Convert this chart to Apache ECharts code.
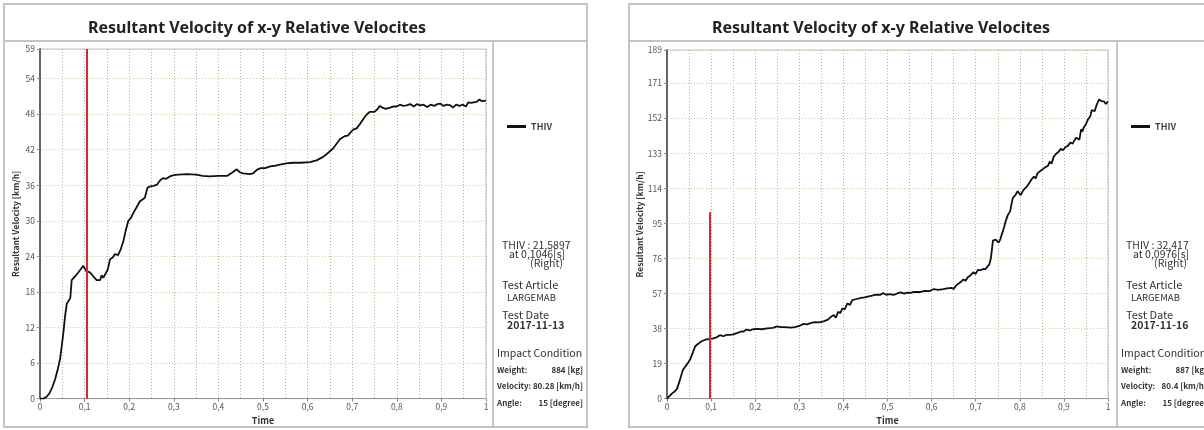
<!DOCTYPE html>
<html>
<head>
<meta charset="utf-8">
<script src="https://cdn.jsdelivr.net/npm/echarts@6/dist/echarts.min.js"></script>
<style>
  html, body { margin: 0; padding: 0; background: #fff; }
  #chart { width: 1204px; height: 430px; }
</style>
</head>
<body>
<div id="chart"></div>
<script>
// left test (2017-11-13)
const timeLeft = [0, 0.008, 0.015, 0.022, 0.028, 0.034, 0.04, 0.045, 0.049, 0.053, 0.056, 0.06, 0.065, 0.068, 0.071, 0.078, 0.085, 0.09, 0.097, 0.1, 0.104, 0.112, 0.12, 0.127, 0.135, 0.138, 0.142, 0.146, 0.152, 0.157, 0.163, 0.168, 0.175, 0.181, 0.187, 0.192, 0.198, 0.204, 0.209, 0.216, 0.224, 0.23, 0.235, 0.241, 0.247, 0.255, 0.262, 0.27, 0.276, 0.283, 0.291, 0.3, 0.31, 0.33, 0.35, 0.365, 0.38, 0.4, 0.42, 0.432, 0.441, 0.448, 0.455, 0.47, 0.478, 0.486, 0.495, 0.505, 0.516, 0.528, 0.538, 0.552, 0.567, 0.585, 0.605, 0.62, 0.635, 0.645, 0.657, 0.665, 0.673, 0.684, 0.69, 0.695, 0.702, 0.71, 0.717, 0.725, 0.733, 0.74, 0.744, 0.75, 0.756, 0.762, 0.768, 0.775, 0.785, 0.793, 0.8, 0.807, 0.814, 0.822, 0.83, 0.838, 0.845, 0.853, 0.86, 0.868, 0.876, 0.884, 0.891, 0.897, 0.905, 0.912, 0.92, 0.926, 0.933, 0.94, 0.948, 0.955, 0.96, 0.966, 0.973, 0.98, 0.985, 0.99, 1];
const thivLeft = [0, 0, 0.3, 1, 2, 3.3, 5, 6.7, 9, 11.5, 13.8, 16, 16.6, 17, 20, 20.6, 21.2, 21.7, 22.4, 22.1, 21.5, 21.3, 20.6, 20, 20, 20.8, 20.4, 20.5, 21.8, 23.5, 23.8, 24.4, 24.2, 25.2, 26.6, 28.3, 30, 30.5, 31.3, 32.2, 33.3, 33.6, 33.9, 35.6, 35.8, 35.9, 36.1, 36.9, 37.2, 37.1, 37.5, 37.7, 37.8, 37.9, 37.8, 37.6, 37.5, 37.6, 37.6, 38.2, 38.7, 38.2, 38, 37.9, 38, 38.6, 38.9, 38.9, 39.2, 39.3, 39.5, 39.7, 39.8, 39.8, 39.9, 40.2, 40.8, 41.4, 42.2, 43, 43.8, 44.3, 44.4, 44.8, 45.4, 45.6, 46.3, 47.2, 48, 48.4, 48.6, 48.4, 48.8, 49.4, 49.1, 48.9, 49.1, 49.3, 49.3, 49.6, 49.4, 49.5, 49.7, 49.3, 49.7, 49.5, 49.6, 49.2, 49.6, 49.4, 49.7, 49.8, 49.4, 49.6, 49.5, 49.1, 49.6, 49.4, 49.6, 49.3, 50, 49.9, 50, 50.1, 50.5, 50.2, 50.3];

// right test (2017-11-16)
const timeRight = [0, 0.011, 0.018, 0.023, 0.03, 0.036, 0.042, 0.048, 0.053, 0.057, 0.064, 0.07, 0.075, 0.082, 0.09, 0.0976, 0.105, 0.112, 0.12, 0.128, 0.135, 0.143, 0.15, 0.16, 0.168, 0.173, 0.18, 0.188, 0.195, 0.205, 0.215, 0.227, 0.24, 0.25, 0.257, 0.268, 0.28, 0.29, 0.302, 0.31, 0.318, 0.325, 0.335, 0.345, 0.355, 0.365, 0.372, 0.378, 0.383, 0.388, 0.393, 0.398, 0.403, 0.409, 0.415, 0.42, 0.43, 0.44, 0.448, 0.455, 0.465, 0.474, 0.478, 0.484, 0.49, 0.497, 0.505, 0.514, 0.522, 0.53, 0.538, 0.545, 0.552, 0.56, 0.568, 0.575, 0.585, 0.595, 0.605, 0.615, 0.627, 0.635, 0.645, 0.65, 0.656, 0.66, 0.666, 0.672, 0.677, 0.682, 0.688, 0.695, 0.7, 0.705, 0.711, 0.717, 0.722, 0.727, 0.731, 0.734, 0.737, 0.739, 0.742, 0.745, 0.749, 0.752, 0.756, 0.759, 0.764, 0.768, 0.773, 0.778, 0.781, 0.784, 0.79, 0.795, 0.802, 0.808, 0.813, 0.818, 0.825, 0.832, 0.836, 0.84, 0.848, 0.856, 0.864, 0.868, 0.872, 0.877, 0.882, 0.888, 0.893, 0.898, 0.904, 0.909, 0.915, 0.92, 0.923, 0.928, 0.932, 0.935, 0.939, 0.942, 0.945, 0.95, 0.955, 0.96, 0.963, 0.966, 0.97, 0.973, 0.977, 0.98, 0.985, 0.991, 0.995, 1];
const thivRight = [0, 2.7, 4, 5.4, 10.7, 15.5, 17.5, 19.5, 21.5, 24, 28.4, 29.6, 30.5, 31.5, 32.1, 32.4, 32.6, 33.2, 34.4, 33.8, 34.6, 34.5, 34.8, 35.6, 36.4, 36.3, 37.4, 37, 37.6, 37.8, 37.6, 38.1, 38.3, 39.2, 38.8, 38.7, 38.5, 38.8, 39.6, 40.5, 40.2, 40.9, 41.4, 41.3, 41.9, 42.8, 44.4, 45.3, 43.9, 47.1, 46.4, 49, 48.3, 51.6, 50.8, 53.4, 54, 54.6, 54.9, 55.3, 55.8, 56.4, 55.5, 56.3, 57.2, 56.3, 56.6, 56.2, 57, 57.6, 56.9, 57.5, 57.3, 57.9, 57.8, 57.8, 58.4, 58.3, 59.4, 58.9, 59.4, 59.8, 60, 59.5, 61.5, 62.5, 63.2, 64.6, 63.9, 65.8, 66.8, 68.5, 67.6, 69.8, 69.6, 70.3, 70.1, 71.7, 72.8, 75.5, 81.2, 85.7, 84.9, 86.2, 85.2, 84.6, 86.5, 88.9, 92.6, 96.2, 99.6, 101.5, 105.2, 108.7, 110.4, 112.4, 110.3, 113, 114.2, 115.6, 118.3, 120.4, 119.3, 122.1, 123.7, 125.1, 126.3, 128.5, 127.4, 131.2, 132.6, 133.8, 135.4, 134.7, 136.4, 137, 138.9, 138.2, 139.7, 141.5, 142.4, 140.3, 146, 144.8, 147, 148.8, 151.5, 153.2, 156.4, 156.8, 155.9, 158.4, 160.8, 162.2, 161.3, 161.1, 159.8, 161];

const yMaxLeft = 59, yStepLeft = 6;
const yMaxRight = 189, yStepRight = 19;
const peakTimeLeft = 0.1046, peakTimeRight = 0.0976;
const markTopRight = 101;

const infoLeft = ['THIV : 21,5897', 'at 0,1046[s]', '(Right)', 'LARGEMAB', '2017-11-13', '884 [kg]', '80.28 [km/h]', '15 [degree]'];
const infoRight = ['THIV : 32,417', 'at 0,0976[s]', '(Right)', 'LARGEMAB', '2017-11-16', '887 [kg]', '80.4 [km/h]', '15 [degree]'];
const titleText = 'Resultant Velocity of x-y Relative Velocites';

const FONT = '"Noto Sans CJK KR", "Noto Sans", sans-serif';
const pair = (ts, vs) => ts.map((t, i) => [t, vs[i]]);

function xAxisFor(gi) {
  return {
    type: 'value', gridIndex: gi, min: 0, max: 1, interval: 0.1,
    name: 'Time', nameLocation: 'middle', nameGap: 15,
    nameTextStyle: { fontFamily: FONT, fontSize: 9, fontWeight: 'bold', color: '#333' },
    axisLine: { lineStyle: { color: '#999', width: 1 } },
    axisTick: { show: true, length: 3, lineStyle: { color: '#888' } },
    axisLabel: { fontFamily: FONT, fontSize: 8.5, color: '#555', margin: 4,
      formatter: v => String(v).replace('.', ',') },
    splitLine: { show: true, lineStyle: { color: '#b4b4aa', type: [1, 2], width: 1 } },
    minorTick: { show: false, splitNumber: 2 },
    minorSplitLine: { show: true, lineStyle: { color: '#b4b4aa', type: [1, 2], width: 1 } }
  };
}

function yAxisFor(gi, max, step) {
  return {
    type: 'value', gridIndex: gi, min: 0, max: max, interval: step,
    name: 'Resultant Velocity [km/h]', nameLocation: 'middle', nameGap: 20,
    nameTextStyle: { fontFamily: FONT, fontSize: 8.5, fontWeight: 'bold', color: '#333' },
    axisLine: { show: true, lineStyle: { color: '#666', width: 2 } },
    axisTick: { show: true, length: 3, lineStyle: { color: '#888' } },
    axisLabel: { fontFamily: FONT, fontSize: 8.5, color: '#555', margin: 5 },
    splitLine: { show: true, lineStyle: { color: '#cdcd9a', type: [1, 2], width: 1 } }
  };
}

function seriesFor(gi, data, tPeak, top) {
  return {
    type: 'line', name: 'THIV', xAxisIndex: gi, yAxisIndex: gi,
    data: data, showSymbol: false, symbol: 'none', animation: false,
    lineStyle: { color: '#111', width: 1.8 },
    itemStyle: { color: '#111' },
    markLine: {
      silent: true, symbol: 'none', animation: false,
      label: { show: false },
      lineStyle: { color: '#d42a2a', width: 2, type: 'solid' },
      data: [[{ coord: [tPeak, 0] }, { coord: [tPeak, top] }]]
    }
  };
}

function panelGraphics(x0, w, divX, info) {
  const txt = (x, y, text, size, weight, align) => ({
    type: 'text', x: x, y: y,
    style: { text: text, fill: '#333', fontFamily: FONT, fontSize: size,
      fontWeight: weight || 'normal', align: align || 'left', verticalAlign: 'middle' }
  });
  const dx = divX + 9;
  return [
    { type: 'rect', shape: { x: x0, y: 4, width: w, height: 423 },
      style: { fill: 'none', stroke: '#c4c4c4', lineWidth: 2 } },
    { type: 'line', shape: { x1: x0, y1: 41, x2: x0 + w, y2: 41 },
      style: { stroke: '#c4c4c4', lineWidth: 2 } },
    { type: 'line', shape: { x1: divX, y1: 41, x2: divX, y2: 427 },
      style: { stroke: '#c4c4c4', lineWidth: 2 } },
    txt(dx, 245, info[0], 10.5),
    txt(dx + 7, 254, info[1], 10.5),
    txt(dx + 61, 263, info[2], 10.5, 'normal', 'right'),
    txt(dx, 285, 'Test Article', 11),
    txt(dx + 5, 297, info[3], 9.5),
    txt(dx, 315, 'Test Date', 11),
    txt(dx + 5, 325, info[4], 10.5, 'bold'),
    txt(dx - 5, 353, 'Impact Condition', 10.5),
    txt(dx - 5, 370, 'Weight:', 8, 'bold'),
    txt(dx + 81, 370, info[5], 8, 'bold', 'right'),
    txt(dx - 5, 386, 'Velocity:', 8, 'bold'),
    txt(dx + 81, 386, info[6], 8, 'bold', 'right'),
    txt(dx - 5, 403, 'Angle:', 8, 'bold'),
    txt(dx + 81, 403, info[7], 8, 'bold', 'right')
  ];
}

const chart = echarts.init(document.getElementById('chart'), null, { renderer: 'canvas' });

const titleStyle = { fontFamily: '"Noto Sans", sans-serif', fontSize: 16, fontWeight: 'bold', color: '#222' };

const option = {
  animation: false,
  backgroundColor: '#fff',
  title: [
    { text: titleText, left: 252, top: 23, textAlign: 'center', textVerticalAlign: 'middle', textStyle: titleStyle },
    { text: titleText, left: 876, top: 23, textAlign: 'center', textVerticalAlign: 'middle', textStyle: titleStyle }
  ],
  legend: [
    { left: 502, top: 117, icon: 'rect', itemWidth: 19, itemHeight: 3, itemGap: 6,
      selectedMode: false, data: ['THIV'],
      textStyle: { fontFamily: FONT, fontSize: 9, fontWeight: 'bold', color: '#444' } },
    { left: 1126, top: 117, icon: 'rect', itemWidth: 19, itemHeight: 3, itemGap: 6,
      selectedMode: false, data: ['THIV'],
      textStyle: { fontFamily: FONT, fontSize: 9, fontWeight: 'bold', color: '#444' } }
  ],
  grid: [
    { left: 40, top: 49, width: 446, height: 354, show: true, borderColor: '#c0c0c0', borderWidth: 1 },
    { left: 667, top: 50, width: 441, height: 353, show: true, borderColor: '#c0c0c0', borderWidth: 1 }
  ],
  xAxis: [xAxisFor(0), xAxisFor(1)],
  yAxis: [yAxisFor(0, yMaxLeft, yStepLeft), yAxisFor(1, yMaxRight, yStepRight)],
  series: [
    seriesFor(0, pair(timeLeft, thivLeft), peakTimeLeft, yMaxLeft),
    seriesFor(1, pair(timeRight, thivRight), peakTimeRight, markTopRight)
  ],
  graphic: [].concat(
    panelGraphics(4, 583, 493, infoLeft),
    panelGraphics(629, 590, 1117, infoRight)
  )
};

chart.setOption(option);
</script>
</body>
</html>
